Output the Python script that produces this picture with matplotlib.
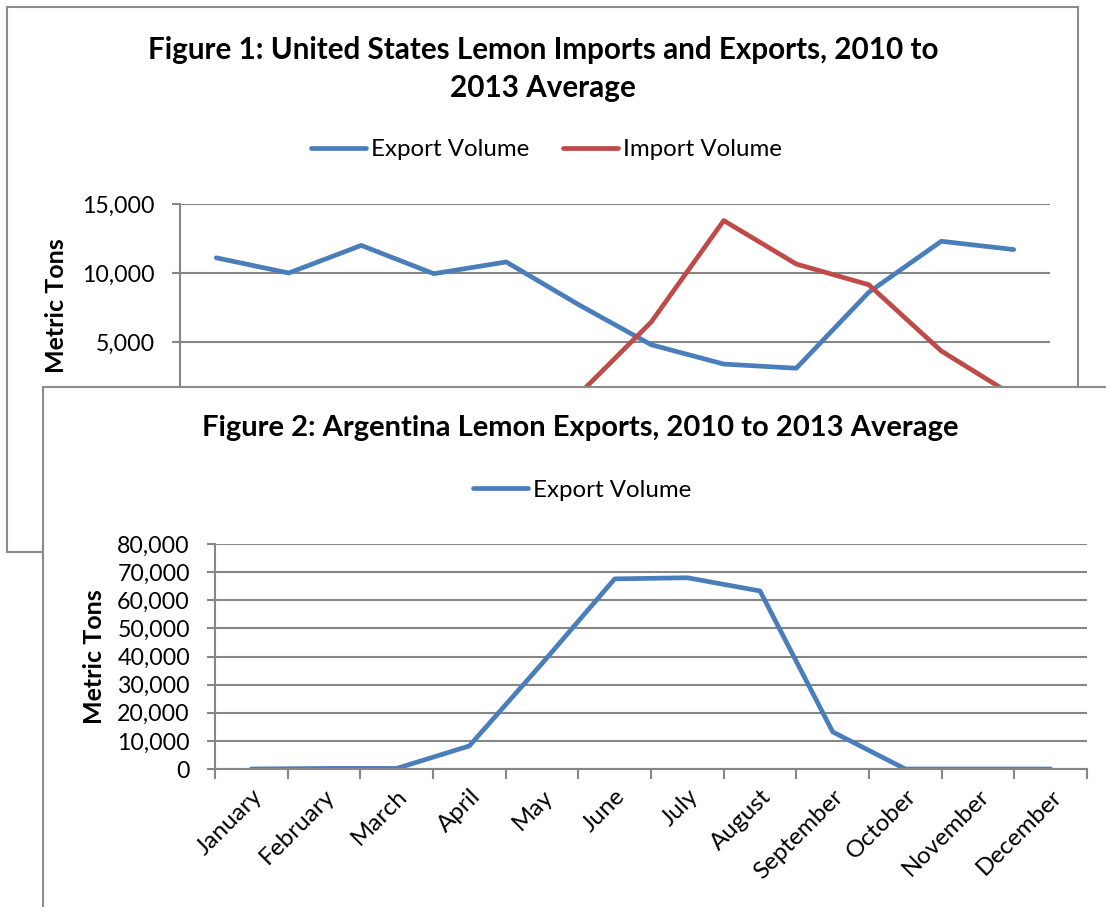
import numpy as np
import matplotlib.pyplot as plt
from matplotlib.patches import Rectangle

plt.rcParams['font.family'] = ['Lato', 'DejaVu Sans']

months = ['January', 'February', 'March', 'April', 'May', 'June',
          'July', 'August', 'September', 'October', 'November', 'December']

# Figure 1: US lemon trade (metric tons)
us_export = [11100, 10000, 12000, 9950, 10800, 7700, 4800, 3400, 3100, 8600, 12300, 11700]
us_import = [300, 200, 100, 100, 300, 1200, 6450, 13800, 10650, 9150, 4350, 1100]

# Figure 2: Argentina lemon exports (metric tons)
ar_export = [0, 200, 200, 8200, 37500, 67600, 68000, 63300, 13200, 0, 0, 0]

W, H = 1106, 907
fig = plt.figure(figsize=(W / 100, H / 100), dpi=100)

def fx(px):
    return px / W

def fy(py):
    return 1 - py / H

blue = '#4A7EBB'
red = '#BE4B48'
grid_c = '#868686'
box_c = '#8c8c8c'
lw = 3.4
tick_fs = 16.7

# panel border of figure 1
fig.patches.append(Rectangle((fx(7), fy(552)), fx(1078) - fx(7), fy(7) - fy(552),
                             transform=fig.transFigure, fill=False, ec=box_c, lw=1.5, zorder=0))

x = np.arange(12) + 0.5

ax1 = fig.add_axes([fx(180), fy(411), fx(1050) - fx(180), fy(204) - fy(411)])
ax1.set_zorder(1)
ax1.patch.set_alpha(0)
l1, = ax1.plot(x, us_export, color=blue, lw=lw, label='Export Volume', solid_capstyle='round')
l2, = ax1.plot(x, us_import, color=red, lw=lw, label='Import Volume', solid_capstyle='round')
ax1.set_xlim(0, 12)
ax1.set_ylim(0, 15000)
ax1.set_yticks([0, 5000, 10000, 15000])
ax1.set_yticklabels(['0', '5,000', '10,000', '15,000'])
ax1.yaxis.grid(True, color=grid_c, lw=1.5)
ax1.set_axisbelow(True)
for s in ['top', 'right', 'bottom']:
    ax1.spines[s].set_visible(False)
ax1.spines['left'].set_color(grid_c)
ax1.spines['left'].set_linewidth(1.5)
ax1.tick_params(axis='y', colors=grid_c, length=6, width=1.5, labelsize=tick_fs,
                labelcolor='black', pad=12)
ax1.set_xticks([])
ax1.set_ylabel('Metric Tons', fontsize=18, fontweight='bold', va='center')
ax1.yaxis.set_label_coords((56 - 180) / 870, 0.507)

fig.text(fx(543), fy(50), 'Figure 1: United States Lemon Imports and Exports, 2010 to',
         ha='center', va='center', fontsize=21.3, fontweight='bold')
fig.text(fx(543), fy(88), '2013 Average', ha='center', va='center', fontsize=21.3, fontweight='bold')
fig.legend(handles=[l1, l2], loc='center', bbox_to_anchor=(fx(546), fy(150)), ncol=2,
           frameon=False, fontsize=17.3, handlelength=2.3, handletextpad=0.2, columnspacing=1.4)

# panel of figure 2 covering the lower part of figure 1
panel = fig.add_axes([fx(43), 0, 1 - fx(43), fy(387)])
panel.set_zorder(2)
panel.set_xticks([])
panel.set_yticks([])
for s in ['right', 'bottom']:
    panel.spines[s].set_visible(False)
for s in ['top', 'left']:
    panel.spines[s].set_color(box_c)
    panel.spines[s].set_linewidth(1.5)

ax2 = fig.add_axes([fx(215), fy(769), fx(1087) - fx(215), fy(544) - fy(769)])
ax2.set_zorder(3)
ax2.patch.set_alpha(0)
l3, = ax2.plot(x, ar_export, color=blue, lw=lw, label='Export Volume', solid_capstyle='round')
ax2.set_xlim(0, 12)
ax2.set_ylim(0, 80000)
yt = np.arange(0, 80001, 10000)
ax2.set_yticks(yt)
ax2.set_yticklabels([f'{v:,}' for v in yt])
ax2.yaxis.grid(True, color=grid_c, lw=1.5)
ax2.set_axisbelow(True)
for s in ['top', 'right']:
    ax2.spines[s].set_visible(False)
for s in ['left', 'bottom']:
    ax2.spines[s].set_color(grid_c)
    ax2.spines[s].set_linewidth(1.5)
ax2.tick_params(axis='y', colors=grid_c, length=6, width=1.5, labelsize=tick_fs,
                labelcolor='black', pad=12)
ax2.set_xticks(np.arange(13))
ax2.set_xticklabels([])
ax2.set_xticks(x, minor=True)
ax2.set_xticklabels(months, minor=True, rotation=45, ha='right', rotation_mode='anchor',
                    fontsize=17.5)
ax2.tick_params(axis='x', which='major', colors=grid_c, length=7, width=1.5)
ax2.tick_params(axis='x', which='minor', length=0, pad=12)
ax2.set_ylabel('Metric Tons', fontsize=18, fontweight='bold', va='center')
ax2.yaxis.set_label_coords((95 - 215) / 872, 0.5)

fig.text(fx(580), fy(428), 'Figure 2: Argentina Lemon Exports, 2010 to 2013 Average',
         ha='center', va='center', fontsize=21, fontweight='bold', zorder=5)
leg2 = fig.legend(handles=[l3], loc='center', bbox_to_anchor=(fx(582), fy(490)),
                  frameon=False, fontsize=17.3, handlelength=2.3, handletextpad=0.2)
leg2.set_zorder(5)

fig.savefig('out.png', dpi=100)
